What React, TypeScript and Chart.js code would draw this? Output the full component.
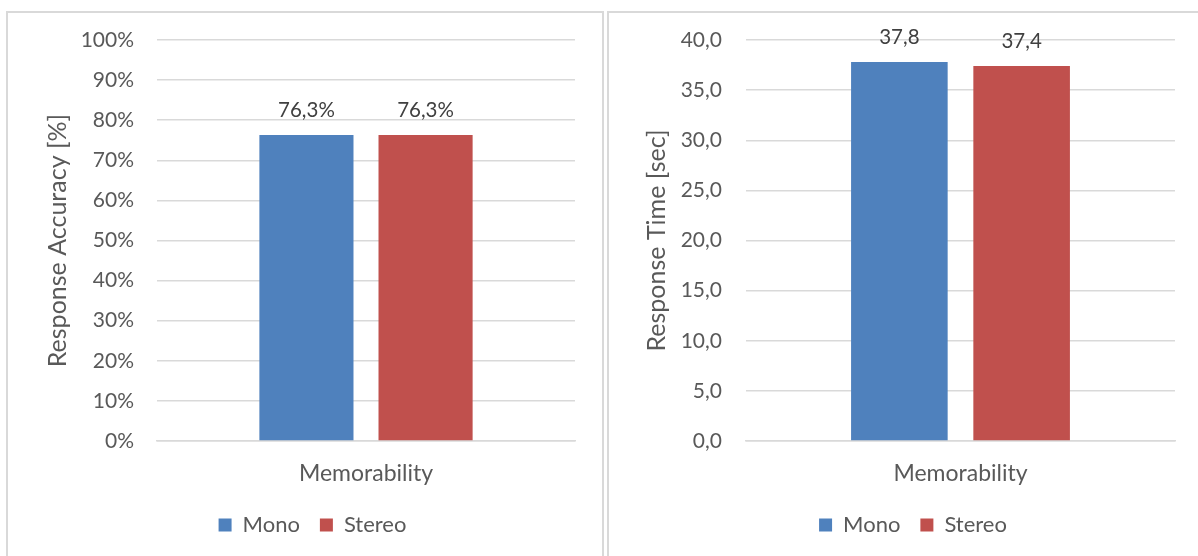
import React, { useEffect, useRef } from "react";
import { Chart, registerables } from "chart.js";

Chart.register(...registerables);

// Data
const categories = ["Memorability"];
const seriesNames = ["Mono", "Stereo"];
const accuracyMono = [76.3];
const accuracyStereo = [76.3];
const timeMono = [37.8];
const timeStereo = [37.4];
const accuracyTicks = { min: 0, max: 100, step: 10 };
const timeTicks = { min: 0, max: 40, step: 5 };

const BLUE = "#4f81bd";
const RED = "#c0504d";
const GRID = "#d9d9d9";
const TEXT = "#595959";
const LABEL = "#404040";
const FONT = "Lato, 'Open Sans', sans-serif";

const comma = (v: number, d: number) => v.toFixed(d).replace(".", ",");

// Value labels drawn above every bar
const valueLabels = (fmt: (v: number) => string) => ({
  id: "valueLabels",
  afterDatasetsDraw(chart: any) {
    const ctx = chart.ctx;
    ctx.save();
    ctx.font = `20.5px ${FONT}`;
    ctx.fillStyle = LABEL;
    ctx.textAlign = "center";
    ctx.textBaseline = "middle";
    chart.data.datasets.forEach((ds: any, i: number) => {
      const meta = chart.getDatasetMeta(i);
      meta.data.forEach((bar: any, j: number) => {
        ctx.fillText(fmt(ds.data[j]), bar.x, bar.y - 25);
      });
    });
    ctx.restore();
  },
});

// Nudge the legend row a little to the right of the canvas centre
const legendShift = {
  id: "legendShift",
  afterLayout(chart: any) {
    if (chart.legend) chart.legend.left += 42;
  },
};

type Props = {
  mono: number[];
  stereo: number[];
  ticks: { min: number; max: number; step: number };
  tickFmt: (v: number) => string;
  labelFmt: (v: number) => string;
  title: string;
  yWidth: number;
  tickPad: number;
  titlePad: number;
  padRight: number;
};

function BarPanel(p: Props) {
  const ref = useRef<HTMLCanvasElement>(null);
  useEffect(() => {
    const chart = new Chart(ref.current as HTMLCanvasElement, {
      type: "bar",
      data: {
        labels: categories,
        datasets: [
          { label: seriesNames[0], data: p.mono, backgroundColor: BLUE },
          { label: seriesNames[1], data: p.stereo, backgroundColor: RED },
        ],
      },
      options: {
        animation: false,
        responsive: false,
        layout: { padding: { top: 27, right: p.padRight, bottom: 10, left: 0 } },
        datasets: {
          bar: { categoryPercentage: 0.57, barPercentage: 0.79 },
        } as any,
        plugins: {
          tooltip: { enabled: false },
          legend: {
            position: "bottom",
            labels: {
              boxWidth: 13,
              boxHeight: 13,
              padding: 20,
              color: TEXT,
              font: { family: FONT, size: 22 },
            },
          },
        },
        scales: {
          x: {
            grid: { display: false },
            border: { display: true, color: GRID, width: 1.5 },
            ticks: { color: TEXT, font: { family: FONT, size: 23 }, padding: 11 },
            afterFit: (a: any) => {
              a.height = 53;
              a.paddingLeft = 0;
              a.paddingRight = 0;
            },
          },
          y: {
            min: p.ticks.min,
            max: p.ticks.max,
            border: { display: false },
            grid: { color: GRID, lineWidth: 1.5, drawTicks: false },
            ticks: {
              stepSize: p.ticks.step,
              color: TEXT,
              font: { family: FONT, size: 21 },
              padding: p.tickPad,
              callback: (v: any) => p.tickFmt(Number(v)),
            },
            title: {
              display: true,
              text: p.title,
              color: TEXT,
              font: { family: FONT, size: 25, weight: "normal" },
              padding: { top: p.titlePad, bottom: 0 },
            },
            afterFit: (a: any) => {
              a.width = p.yWidth;
              a.paddingTop = 0;
              a.paddingBottom = 0;
            },
          },
        },
      },
      plugins: [valueLabels(p.labelFmt), legendShift],
    });
    return () => chart.destroy();
  }, []);
  return <canvas ref={ref} width={594} height={543} style={{ display: "block" }} />;
}

export default function App() {
  const boxStyle = (left: number, width: number): React.CSSProperties => ({
    position: "absolute",
    left,
    top: 11,
    width,
    height: 560,
    border: `2px solid ${GRID}`,
    borderBottom: "none",
    background: "#fff",
  });
  return (
    <div
      style={{
        position: "fixed",
        left: 0,
        top: 0,
        width: 1198,
        height: 556,
        background: "#fff",
        overflow: "hidden",
        fontFamily: FONT,
      }}
    >
      <div style={boxStyle(6, 594)}>
        <BarPanel
          mono={accuracyMono}
          stereo={accuracyStereo}
          ticks={accuracyTicks}
          tickFmt={(v) => `${v}%`}
          labelFmt={(v) => `${comma(v, 1)}%`}
          title="Response Accuracy [%]"
          yWidth={149}
          tickPad={23}
          titlePad={35}
          padRight={27}
        />
      </div>
      <div style={boxStyle(607, 600)}>
        <BarPanel
          mono={timeMono}
          stereo={timeStereo}
          ticks={timeTicks}
          tickFmt={(v) => comma(v, 1)}
          labelFmt={(v) => comma(v, 1)}
          title="Response Time [sec]"
          yWidth={137}
          tickPad={24}
          titlePad={33}
          padRight={28}
        />
      </div>
    </div>
  );
}
